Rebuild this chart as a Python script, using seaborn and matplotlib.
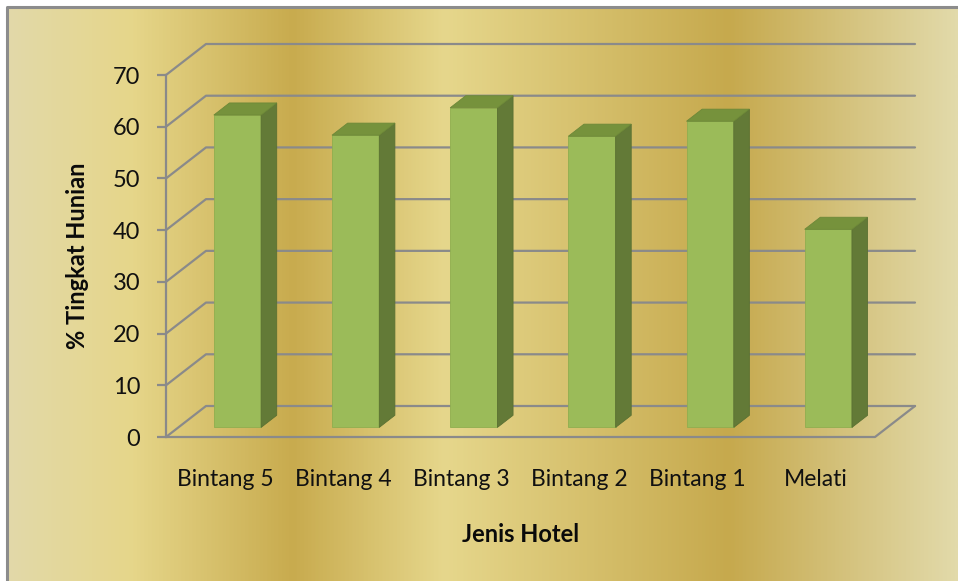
import numpy as np
import matplotlib
matplotlib.use("Agg")
import matplotlib.pyplot as plt
from matplotlib.colors import LinearSegmentedColormap
from matplotlib.patches import Polygon
from matplotlib.lines import Line2D
import seaborn as sns

# data
hotel = ["Bintang 5", "Bintang 4", "Bintang 3", "Bintang 2", "Bintang 1", "Melati"]
occupancy = [60.4, 56.5, 61.8, 56.3, 59.2, 38.3]
yticks = [0, 10, 20, 30, 40, 50, 60, 70]

front_c = "#9BBB59"
side_c = "#637A37"
top_c = "#76923C"
grid_c = "#8A8A8A"

sns.set_style("white")
plt.rcParams["font.family"] = ["Lato", "DejaVu Sans"]

W, H = 958, 581
fig = plt.figure(figsize=(W / 100, H / 100), dpi=100)
fig.patch.set_facecolor("white")

# gold gradient background inside the frame
gold = LinearSegmentedColormap.from_list(
    "gold",
    [(0.0, "#E2D9A9"), (0.13, "#E6D68A"), (0.30, "#C8AB4E"),
     (0.46, "#E6D78C"), (0.76, "#C6A94D"), (1.0, "#E2DAAA")])
bg = fig.add_axes([7 / W, 0, 1 - 7 / W, 1 - 7 / H], zorder=-5)
bg.imshow(np.linspace(0, 1, 512)[None, :], cmap=gold, aspect="auto",
          extent=[0, 1, 0, 1])
bg.axis("off")
fig.add_artist(Line2D([7 / W, 7 / W, 1], [0, 1 - 7 / H, 1 - 7 / H],
                      color="#8C8C8C", lw=2.2, transform=fig.transFigure))

ax = fig.add_axes([166 / W, (H - 437) / H, 709 / W, 362 / H])
ax.set_facecolor("none")

sns.barplot(x=hotel, y=occupancy, color=front_c, saturation=1, width=0.4,
            ax=ax, zorder=3)
ax.set_xlim(-0.5, len(hotel) - 0.5)
ax.set_ylim(0, 70)

# depth vector of the 3D box, 40 px right and 31 px up
p0 = ax.transData.transform((0, 0))
p1 = ax.transData.transform((1, 1))
DX = 40 / (p1[0] - p0[0])
DY = 31 / (p1[1] - p0[1])
f0, f1 = 0.31, 0.70

# walls and floor
x_lo, x_hi = -0.5, len(hotel) - 0.5
for v in yticks:
    ax.plot([x_lo, x_lo + DX, x_hi + DX], [v, v + DY, v + DY],
            color=grid_c, lw=1.6, clip_on=False, zorder=1)
ax.plot([x_lo, x_hi, x_hi + DX], [0, 0, DY], color=grid_c, lw=1.6,
        clip_on=False, zorder=1)

# turn the flat bars into boxes
for bar in ax.patches:
    x0 = bar.get_x()
    w = bar.get_width()
    h = bar.get_height()
    x1 = x0 + w
    bar.set_x(x0 + f0 * DX)
    bar.set_y(f0 * DY)
    bar.set_edgecolor("#8FAE4F")
    bar.set_linewidth(0.6)
    bar.set_clip_on(False)
    side = [(x1 + f0 * DX, f0 * DY), (x1 + f1 * DX, f1 * DY),
            (x1 + f1 * DX, h + f1 * DY), (x1 + f0 * DX, h + f0 * DY)]
    top = [(x0 + f0 * DX, h + f0 * DY), (x1 + f0 * DX, h + f0 * DY),
           (x1 + f1 * DX, h + f1 * DY), (x0 + f1 * DX, h + f1 * DY)]
    ax.add_patch(Polygon(side, closed=True, fc=side_c, ec="#5A7032",
                         lw=0.6, clip_on=False, zorder=3))
    ax.add_patch(Polygon(top, closed=True, fc=top_c, ec="#6C8838",
                         lw=0.6, clip_on=False, zorder=3))

for s in ["top", "right", "bottom"]:
    ax.spines[s].set_visible(False)
ax.spines["left"].set_color(grid_c)
ax.spines["left"].set_linewidth(1.6)

ax.set_yticks(yticks)
ax.tick_params(axis="y", length=6.5, width=1.6, color=grid_c, pad=12,
               labelsize=17, labelcolor="#111111", left=True)
ax.tick_params(axis="x", length=0, pad=23, labelsize=16.5,
               labelcolor="#111111")

ax.set_xlabel("Jenis Hotel", fontsize=17, fontweight="bold", color="#0A0A0A")
ax.set_ylabel("% Tingkat Hunian", fontsize=17, fontweight="bold",
              color="#0A0A0A")
ax.xaxis.set_label_coords(0.5, -0.238)
ax.yaxis.set_label_coords(-0.1086, 0.5)

fig.savefig("out.png", dpi=100)
